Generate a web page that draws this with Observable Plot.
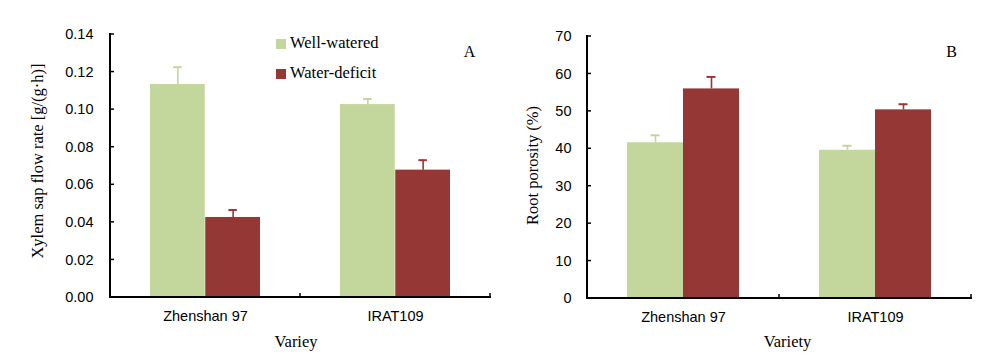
<!DOCTYPE html>
<html>
<head>
<meta charset="utf-8">
<script src="https://cdn.jsdelivr.net/npm/d3@7"></script>
<script src="https://cdn.jsdelivr.net/npm/@observablehq/plot@0.6"></script>
<style>
  html, body { margin: 0; padding: 0; background: #fff; }
  #wrap { position: relative; width: 1004px; height: 355px; overflow: hidden; }
  .panel { position: absolute; top: 0; }
  .legend { position: absolute; font-family: "Liberation Serif", "Times New Roman", serif; font-size: 16.5px; color: #000; }
  .legend .item { position: absolute; white-space: nowrap; line-height: 16px; }
  .legend .sw { position: absolute; width: 10px; height: 10px; }
  .legend .lb { position: absolute; left: 14px; top: -4px; }
</style>
</head>
<body>
<div id="wrap">
  <div id="panelA" class="panel" style="left:0px"></div>
  <div id="panelB" class="panel" style="left:500px"></div>
  <div id="legend" class="legend" style="left:276px; top:39px"></div>
</div>
<script>
// ---- data ----
const varieties = ["Zhenshan 97", "IRAT109"];
const treatments = ["Well-watered", "Water-deficit"];
const colors = ["#C3D69B", "#953735"];

// Panel A: xylem sap flow rate [g/(g·h)]
const flowWell = [0.1134, 0.1027];
const flowWellErr = [0.0092, 0.0030];
const flowDeficit = [0.0426, 0.0678];
const flowDeficitErr = [0.0040, 0.0053];
const flowTicks = [0, 0.02, 0.04, 0.06, 0.08, 0.10, 0.12, 0.14];

// Panel B: root porosity (%)
const poroWell = [41.6, 39.6];
const poroWellErr = [2.0, 1.2];
const poroDeficit = [56.0, 50.4];
const poroDeficitErr = [3.2, 1.5];
const poroTicks = [0, 10, 20, 30, 40, 50, 60, 70];

function rows(well, wellErr, deficit, deficitErr) {
  const out = [];
  varieties.forEach((v, i) => {
    out.push({variety: v, treatment: treatments[0], value: well[i], err: wellErr[i]});
    out.push({variety: v, treatment: treatments[1], value: deficit[i], err: deficitErr[i]});
  });
  return out;
}

function axesMark(yTicks) {
  return (index, scales, values, dim) => {
    const x = scales.x, y = scales.y;
    const bw = x.bandwidth ? x.bandwidth() : (dim.width - dim.marginLeft - dim.marginRight) / varieties.length;
    const xl = x(varieties[0]);
    const xr = x(varieties[varieties.length - 1]) + bw;
    const y0 = y(0), yTop = y(d3.max(yTicks));
    const g = d3.create("svg:g").attr("stroke", "#000").attr("fill", "none");
    g.append("line").attr("x1", xl).attr("x2", xl).attr("y1", yTop - 1).attr("y2", y0 + 1).attr("stroke-width", 2);
    g.append("line").attr("x1", xl - 1).attr("x2", xr + 1).attr("y1", y0).attr("y2", y0).attr("stroke-width", 2);
    for (const t of yTicks) {
      g.append("line").attr("x1", xl).attr("x2", xl + 4).attr("y1", y(t)).attr("y2", y(t)).attr("stroke-width", 1.5);
    }
    const edges = Array.from(new Set(varieties.flatMap(v => [x(v), x(v) + bw])));
    for (const e of edges) {
      g.append("line").attr("x1", e).attr("x2", e).attr("y1", y0).attr("y2", y0 - 4).attr("stroke-width", 1.5);
    }
    return g.node();
  };
}

function panel(el, o) {
  const data = rows(o.well, o.wellErr, o.deficit, o.deficitErr);
  const wellRows = data.filter(d => d.treatment === treatments[0]);
  const defRows = data.filter(d => d.treatment === treatments[1]);
  const bw = (o.width - o.ml - o.mr) / varieties.length;
  const outer = 40;
  const c = outer / 2 + bw / 4;           // green bar centre within band
  const capHalf = 4.5;
  const serif = "Liberation Serif, Times New Roman, serif";
  const chart = Plot.plot({
    width: o.width,
    height: 355,
    marginLeft: o.ml, marginRight: o.mr, marginTop: o.mt, marginBottom: o.mb,
    style: {fontFamily: "Liberation Sans, Arial, sans-serif", fontSize: "14.5px", color: "#000", background: "transparent", overflow: "visible"},
    x: {domain: varieties, padding: 0, tickSize: 0, tickPadding: 13, label: null},
    y: {domain: o.yDomain, ticks: o.yTicks, tickSize: 0, tickPadding: 16, tickFormat: o.tickFormat, label: null},
    marks: [
      Plot.barY(wellRows, {x: "variety", y: "value", fill: colors[0], insetLeft: outer, insetRight: bw / 2}),
      Plot.barY(defRows, {x: "variety", y: "value", fill: colors[1], insetLeft: bw / 2, insetRight: outer}),
      Plot.ruleX(wellRows, {x: "variety", y1: "value", y2: d => d.value + d.err, dx: c - bw / 2, stroke: colors[0], strokeWidth: 1.6}),
      Plot.ruleX(defRows, {x: "variety", y1: "value", y2: d => d.value + d.err, dx: bw / 2 - c, stroke: colors[1], strokeWidth: 1.6}),
      Plot.tickY(wellRows, {x: "variety", y: d => d.value + d.err, stroke: colors[0], strokeWidth: 2, insetLeft: c - capHalf, insetRight: bw - c - capHalf}),
      Plot.tickY(defRows, {x: "variety", y: d => d.value + d.err, stroke: colors[1], strokeWidth: 2, insetLeft: bw - c - capHalf, insetRight: c - capHalf}),
      axesMark(o.yTicks),
      Plot.text([o.ylabel], {frameAnchor: "left", textAnchor: "middle", lineAnchor: "middle", dx: o.ylDx, dy: o.ylDy, rotate: -90, fontFamily: serif, fontSize: 16.5, fill: "#000"}),
      Plot.text([o.xlabel], {frameAnchor: "bottom", textAnchor: "middle", lineAnchor: "middle", dx: o.xlDx, dy: o.xlDy, fontFamily: serif, fontSize: 16.5, fill: "#000"}),
      Plot.text([o.letter], {frameAnchor: "top-right", textAnchor: "middle", lineAnchor: "middle", dx: o.lDx, dy: o.lDy, fontFamily: serif, fontSize: 16, fill: "#000"})
    ]
  });
  el.append(chart);
}

panel(document.getElementById("panelA"), {
  width: 500, ml: 109, mr: 10, mt: 34, mb: 58,
  well: flowWell, wellErr: flowWellErr, deficit: flowDeficit, deficitErr: flowDeficitErr,
  yDomain: [0, 0.14], yTicks: flowTicks, tickFormat: d3.format(".2f"),
  ylabel: "Xylem sap flow rate [g/(g·h)]", ylDx: -72, ylDy: -5,
  xlabel: "Variey", xlDx: -4, xlDy: 44,
  letter: "A", lDx: -21, lDy: 17
});

panel(document.getElementById("panelB"), {
  width: 504, ml: 87, mr: 33, mt: 36, mb: 57,
  well: poroWell, wellErr: poroWellErr, deficit: poroDeficit, deficitErr: poroDeficitErr,
  yDomain: [0, 70], yTicks: poroTicks, tickFormat: d3.format("d"),
  ylabel: "Root porosity (%)", ylDx: -55, ylDy: -2,
  xlabel: "Variety", xlDx: 8, xlDy: 43,
  letter: "B", lDx: -20, lDy: 15
});

// legend
const legend = document.getElementById("legend");
treatments.forEach((t, i) => {
  const item = document.createElement("div");
  item.className = "item";
  item.style.top = (i * 30) + "px";
  const sw = document.createElement("div");
  sw.className = "sw";
  sw.style.background = colors[i];
  const lb = document.createElement("div");
  lb.className = "lb";
  lb.textContent = t;
  item.append(sw, lb);
  legend.append(item);
});
</script>
</body>
</html>
